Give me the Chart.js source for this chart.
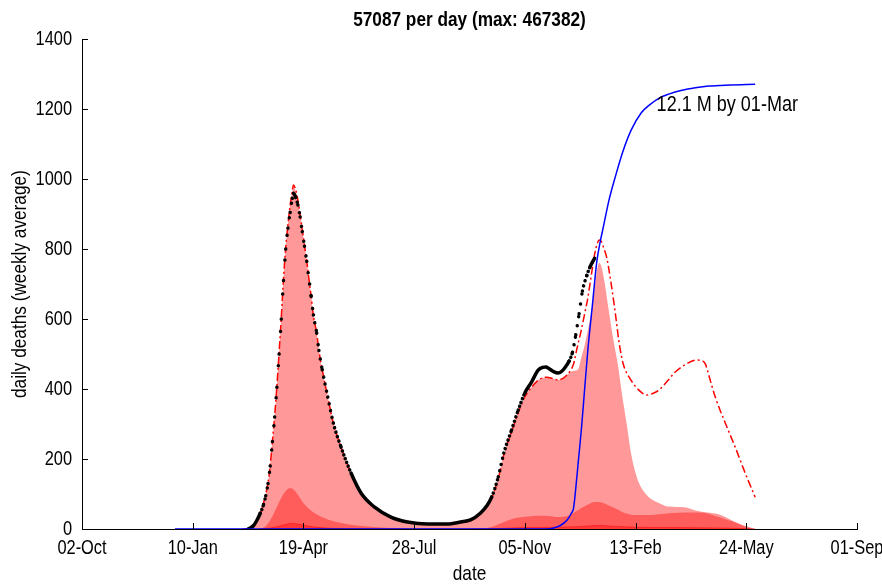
<!DOCTYPE html>
<html><head><meta charset="utf-8">
<script src="https://cdn.jsdelivr.net/npm/chart.js@4.4.1/dist/chart.umd.min.js"></script>
<style>html,body{margin:0;padding:0;background:#fff;}canvas{display:block;}</style>
</head><body>
<canvas id="c" width="882" height="585"></canvas>
<script>
// ---- text ----
const TITLE = '57087 per day (max: 467382)';
const X_TITLE = 'date';
const Y_TITLE = 'daily deaths (weekly average)';
const NOTE_TEXT = '12.1 M by 01-Mar';
const NOTE_DAY = 519, NOTE_LEVEL = 1211;

// ---- axes (days since 02-Oct-2019) ----
const TICK_DAYS = [0, 100, 200, 300, 400, 500, 600, 700];
const TICK_LABELS = ['02-Oct', '10-Jan', '19-Apr', '28-Jul', '05-Nov', '13-Feb', '24-May', '01-Sep'];
const Y_TICKS = [0, 200, 400, 600, 800, 1000, 1200, 1400];

// ---- observed daily deaths (black dots) ----
const obsDays   = [150,152,155,158,161,164,166,168,170,172,174,176,178,180,182,184,186,188,190,191,193,195,197,199,201,203,205,207,209,212,214,217,222,227,234,243,252,264,279,294,312,330,342,351,360,366,370,376,381,388,394,400,406,412,416,419,422,426,430,433,436,440,443,446,449,452,456,459,463];
const obsDeaths = [0,3,10,25,45,70,95,130,180,250,320,405,500,600,710,800,860,905,945,960,948,926,892,850,808,765,715,665,612,560,510,455,377,303,234,160,103,63,34,20,14,14,20,26,46,68,91,149,217,283,340,389,420,454,462,463,458,450,446,450,460,480,505,555,615,680,725,750,774];

// ---- model fit / projection (red dash-dot) ----
const fitDays   = [145,150,153,156,159,162,165,168,170,172,174,176,178,180,182,184,186,188,190,191,193,195,197,199,201,203,205,207,209,212,214,217,222,227,234,243,252,264,279,294,312,330,342,351,360,366,370,376,381,388,394,400,406,412,416,420,425,430,434,438,441,444,447,451,454,457,460,463,465,467,469,471,474,478,482,485,489,495,503,510,516,521,528,535,545,555,559,563,567,572,581,590,599,608];
const fitDeaths = [0,1,4,14,30,52,88,132,182,252,323,408,503,605,715,805,870,925,968,983,970,940,900,855,810,765,715,665,610,560,510,455,377,303,234,160,103,63,34,20,14,14,18,25,44,68,88,145,212,278,333,378,405,425,432,434,430,426,430,440,452,472,515,569,615,663,725,785,812,826,822,805,775,700,610,535,470,430,397,383,388,397,420,446,470,483,482,472,430,377,303,234,160,91];

// ---- estimated deaths, total (light area) ----
const totalDays = [145,150,153,156,159,162,165,168,170,172,174,176,178,180,182,184,186,188,190,191,193,195,197,199,201,203,205,207,209,212,214,217,222,227,234,243,252,264,279,294,312,330,342,351,360,366,370,376,381,388,394,400,406,412,416,420,425,430,434,438,441,444,448,451,454,457,460,463,465,467,469,472,476,480,484,488,492,496,500,504,508,512,520,530,544,555,565,575,585,593,600,606];
const totalArea = [0,1,4,14,30,52,88,132,182,252,323,408,503,605,715,805,870,925,965,978,965,938,900,855,810,765,715,665,610,560,510,455,377,303,234,160,103,63,34,20,14,14,18,25,44,68,88,145,212,278,333,378,405,425,432,434,430,426,430,440,448,452,456,490,525,570,620,690,735,760,752,705,620,540,470,380,300,215,160,125,105,91,76,64,62,52,47,42,28,15,6,0];

// ---- component areas (darker layers) ----
const midDays = [160,165,170,176,181,185,188,191,195,200,206,213,222,234,248,264,285,300,350,360,370,379,390,403,412,421,430,439,446,451,457,463,467,472,481,490,500,512,530,545,557,565,572,581,590,597,603,608];
const midArea = [0,6,25,63,95,112,117,113,98,74,55,40,27,17,10,6,2,0,0,2,6,17,30,36,38,37,34,38,50,60,70,77,77,73,60,46,40,40,45,47,47,44,37,28,19,11,5,0];
const lowDays = [160,170,178,184,189,195,203,215,235,260,360,380,400,430,450,465,480,500,540,575,600,608];
const lowArea = [0,3,8,13,16,14,9,4,1,0,0,2,4,5,7,10,8,5,4,3,1,0];

// ---- cumulative curve (blue, plotted on same axis) ----
const cumDays   = [84,420,426,432,438,442,444,447,451,454,457,461,465,468,471,476,482,489,496,505,513,521,530,542,554,566,585,608];
const cumValues = [0,0,3,10,25,45,60,150,283,400,515,640,765,820,865,940,1010,1083,1140,1189,1213,1231,1243,1254,1261,1266,1269,1271];

const pts = (xs, ys) => xs.map((d, i) => ({x: d, y: ys[i]}));
const FAMILY = "'Liberation Sans', Arial, sans-serif";
const NARROW = 0.82; // horizontal condensing of all text (narrow sans look)

let chart = null;
// one dot per day on steep stretches (as the daily markers in the original)
function dotPattern(c) {
  const dx = Math.abs(c.p1.x - c.p0.x), dy = Math.abs(c.p1.y - c.p0.y);
  const s = dy / Math.max(dx, 1e-6);
  if (s < 2.2 || !chart) return [];
  const pxDay = chart.scales.x.getPixelForValue(1) - chart.scales.x.getPixelForValue(0);
  return [0.01, pxDay * Math.sqrt(1 + s * s) * 1.3];
}

const narrowText = {
  id: 'narrowText',
  beforeInit(ch) {
    const ctx = ch.ctx;
    const orig = ctx.fillText.bind(ctx);
    ctx.fillText = function (text, x, y) {
      ctx.save();
      ctx.translate(x, y);
      ctx.scale(NARROW, 1);
      orig(text, 0, 0);
      ctx.restore();
    };
  }
};

const decorations = {
  id: 'decorations',
  afterDraw(ch) {
    const {ctx, chartArea, scales: {x, y}} = ch;
    ctx.save();
    ctx.strokeStyle = '#000';
    ctx.lineWidth = 1;
    x.ticks.forEach(t => {
      const px = Math.round(x.getPixelForValue(t.value)) + 0.5;
      ctx.beginPath(); ctx.moveTo(px, chartArea.bottom); ctx.lineTo(px, chartArea.bottom - 6); ctx.stroke();
    });
    y.ticks.forEach(t => {
      const py = Math.round(y.getPixelForValue(t.value)) + 0.5;
      ctx.beginPath(); ctx.moveTo(chartArea.left, py); ctx.lineTo(chartArea.left + 6, py); ctx.stroke();
    });
    ctx.fillStyle = '#000';
    ctx.font = '22px ' + FAMILY;
    ctx.textAlign = 'left';
    ctx.textBaseline = 'middle';
    ctx.fillText(NOTE_TEXT, x.getPixelForValue(NOTE_DAY), y.getPixelForValue(NOTE_LEVEL));
    ctx.restore();
  }
};

chart = new Chart(document.getElementById('c'), {
  type: 'line',
  data: {
    datasets: [
      { data: pts(cumDays, cumValues), borderColor: '#0000ff', borderWidth: 1.5, pointRadius: 0, fill: false, cubicInterpolationMode: 'monotone' },
      { data: pts(obsDays, obsDeaths), borderColor: '#000', borderWidth: 3.5, borderCapStyle: 'round', pointRadius: 0, fill: false, cubicInterpolationMode: 'monotone',
        segment: { borderDash: dotPattern } },
      { data: pts(fitDays, fitDeaths), borderColor: '#ff0000', borderWidth: 1.5, borderDash: [8, 3, 2, 3], pointRadius: 0, fill: false, cubicInterpolationMode: 'monotone' },
      { data: pts(lowDays, lowArea), borderColor: 'rgba(255,0,0,0.5)', borderWidth: 1, backgroundColor: 'rgba(255,0,0,0.4)', pointRadius: 0, fill: 'origin', cubicInterpolationMode: 'monotone' },
      { data: pts(midDays, midArea), borderColor: 'rgba(0,0,0,0)', borderWidth: 0, backgroundColor: 'rgba(255,0,0,0.4)', pointRadius: 0, fill: 'origin', cubicInterpolationMode: 'monotone' },
      { data: pts(totalDays, totalArea), borderColor: 'rgba(0,0,0,0)', borderWidth: 0, backgroundColor: 'rgba(255,0,0,0.4)', pointRadius: 0, fill: 'origin', cubicInterpolationMode: 'monotone' }
    ]
  },
  options: {
    responsive: false,
    animation: false,
    devicePixelRatio: 1,
    layout: { padding: { left: 0, right: 25, top: 0, bottom: 0 }, autoPadding: false },
    plugins: {
      legend: { display: false },
      tooltip: { enabled: false },
      title: { display: true, fullSize: false, align: 'center', text: TITLE, color: '#000', font: { family: FAMILY, size: 21, weight: 'bold', lineHeight: 1.2 }, padding: { top: 8, bottom: 6 } }
    },
    scales: {
      x: {
        type: 'linear', min: 0, max: 700,
        afterBuildTicks: s => { s.ticks = TICK_DAYS.map(v => ({ value: v })); },
        afterFit: s => { s.height = 56; s.paddingLeft = 0; s.paddingRight = 0; },
        ticks: { callback: v => TICK_LABELS[TICK_DAYS.indexOf(v)], maxRotation: 0, autoSkip: false, padding: 7, color: '#000', font: { family: FAMILY, size: 20 } },
        grid: { display: false, drawTicks: false },
        border: { display: true, color: '#000', width: 1 },
        title: { display: true, text: X_TITLE, color: '#000', font: { family: FAMILY, size: 21, lineHeight: 1 }, padding: { top: 0, bottom: 0 } }
      },
      y: {
        min: 0, max: 1400,
        afterBuildTicks: s => { s.ticks = Y_TICKS.map(v => ({ value: v })); },
        afterFit: s => { s.width = 82; s.paddingTop = 0; s.paddingBottom = 0; },
        ticks: { callback: v => String(v), padding: 10, color: '#000', font: { family: FAMILY, size: 20 } },
        grid: { display: false, drawTicks: false },
        border: { display: true, color: '#000', width: 1 },
        title: { display: true, text: Y_TITLE, color: '#000', font: { family: FAMILY, size: 21, lineHeight: 1 }, padding: { top: 10, bottom: 0 } }
      }
    }
  },
  plugins: [narrowText, decorations]
});
chart.update();
</script></body></html>
